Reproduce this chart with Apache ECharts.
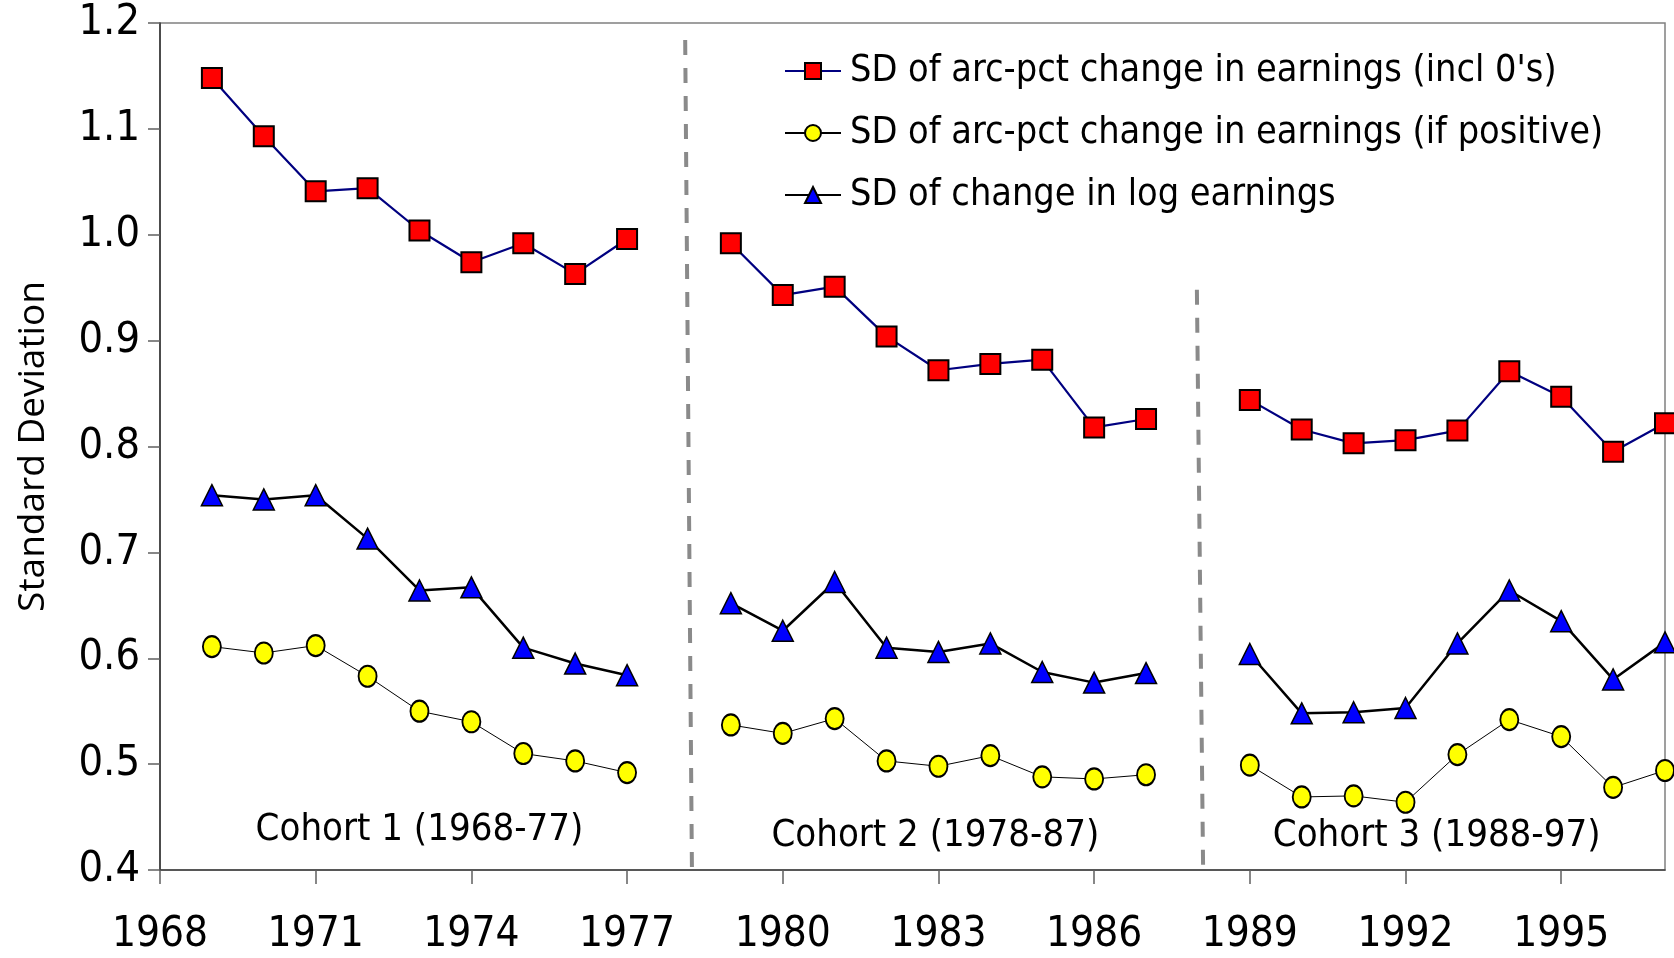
<!DOCTYPE html>
<html>
<head>
<meta charset="utf-8">
<script src="https://cdn.jsdelivr.net/npm/echarts@6/dist/echarts.min.js"></script>
<style>
html,body{margin:0;padding:0;background:#fff;}
#chart{width:1674px;height:958px;}
</style>
</head>
<body>
<div id="chart"></div>
<script>
// ---- data ----
const years = [1969,1970,1971,1972,1973,1974,1975,1976,1977, null, 1979,1980,1981,1982,1983,1984,1985,1986,1987, null, 1989,1990,1991,1992,1993,1994,1995,1996,1997];
const sdArcInclZeros = [1.148,1.093,1.041,1.044,1.004,0.974,0.992,0.963,0.996, null, 0.992,0.943,0.951,0.904,0.872,0.878,0.882,0.818,0.826, null, 0.844,0.816,0.803,0.806,0.815,0.871,0.847,0.795,0.822];
const sdArcPositive = [0.611,0.605,0.612,0.583,0.550,0.540,0.510,0.503,0.492, null, 0.537,0.529,0.543,0.503,0.498,0.508,0.488,0.486,0.490, null, 0.499,0.469,0.470,0.464,0.509,0.542,0.526,0.478,0.494];
const sdLogChange = [0.754,0.750,0.754,0.713,0.664,0.667,0.610,0.595,0.584, null, 0.652,0.626,0.672,0.610,0.606,0.614,0.587,0.577,0.586, null, 0.604,0.548,0.549,0.553,0.614,0.664,0.635,0.580,0.615];
const seriesNames = ["SD of arc-pct change in earnings (incl 0's)", "SD of arc-pct change in earnings (if positive)", "SD of change in log earnings"];
const xTicks = [1968,1971,1974,1977,1980,1983,1986,1989,1992,1995];
const yTicks = [0.4,0.5,0.6,0.7,0.8,0.9,1.0,1.1,1.2];
const cohortNames = ["Cohort 1 (1968-77)", "Cohort 2 (1978-87)", "Cohort 3 (1988-97)"];
const cohortLabelX = [1973.0, 1982.94, 1992.6];
const cohortLabelY = [0.438, 0.432, 0.432];
const dividerTop = [[1978.12, 1.184], [1987.98, 0.948]];
const dividerBottom = [[1978.25, 0.4], [1988.1, 0.4]];

function pairs(vals){
  // break the line between cohorts with a '-' gap
  return years.map((y,i)=> y === null ? [ (years[i-1]+years[i+1])/2, '-' ] : [y, vals[i]]);
}

const FONT = "'Liberation Sans Narrow','DejaVu Sans Condensed','Roboto Condensed','Liberation Sans',sans-serif";

const chart = echarts.init(document.getElementById('chart'), null, {renderer:'canvas'});
chart.setOption({
  animation:false,
  backgroundColor:'#ffffff',
  grid:{left:160, right:9, top:23, bottom:88, show:true, borderColor:'#808080', borderWidth:1.5, containLabel:false},
  legend:{
    data: seriesNames,
    orient:'vertical',
    left:779, top:45,
    itemWidth:56, itemHeight:20, itemGap:20,
    textStyle:{fontFamily:FONT, fontSize:37.5, color:'#000', lineHeight:42, padding:[0,0,0,4]},
    selectedMode:false
  },
  xAxis:{
    type:'value', min:1968, max:1997,
    axisLine:{show:true, onZero:false, lineStyle:{color:'#404040', width:1.5}},
    axisTick:{show:true, length:14, customValues:xTicks, lineStyle:{color:'#606060', width:1.5}},
    axisLabel:{customValues:xTicks, margin:44, fontFamily:FONT, fontSize:42, color:'#000', formatter:v=>String(v)},
    splitLine:{show:false}
  },
  yAxis:{
    type:'value', min:0.4, max:1.2, interval:0.1,
    name:'Standard Deviation', nameLocation:'middle', nameGap:108,
    nameTextStyle:{fontFamily:"'Open Sans','Noto Sans',sans-serif", fontSize:37, color:'#000'},
    axisLine:{show:true, lineStyle:{color:'#303030', width:1.5}},
    axisTick:{show:true, length:12, lineStyle:{color:'#606060', width:1.5}},
    axisLabel:{margin:20, fontFamily:FONT, fontSize:43, color:'#000', formatter:v=>v.toFixed(1)},
    splitLine:{show:false}
  },
  series:[
    {
      name:seriesNames[0], type:'line', data:pairs(sdArcInclZeros), connectNulls:false,
      symbol:'rect', symbolSize:[20,20],
      lineStyle:{color:'#000080', width:2.2},
      itemStyle:{color:'#ff0000', borderColor:'#000', borderWidth:2},
      z:5,
      markLine:{
        silent:true, symbol:'none', label:{show:false},
        lineStyle:{color:'#8a8a8a', width:4, type:[15,13]},
        data: dividerTop.map((p,i)=>[{coord:p},{coord:dividerBottom[i]}])
      }
    },
    {
      name:seriesNames[1], type:'line', data:pairs(sdArcPositive), connectNulls:false,
      symbol:'circle', symbolSize:[18,21],
      lineStyle:{color:'#000', width:1},
      itemStyle:{color:'#ffff00', borderColor:'#000', borderWidth:2},
      z:4
    },
    {
      name:seriesNames[2], type:'line', data:pairs(sdLogChange), connectNulls:false,
      symbol:'triangle', symbolSize:[21,21],
      lineStyle:{color:'#000', width:2.5},
      itemStyle:{color:'#0000ff', borderColor:'#000', borderWidth:1.5},
      z:4
    },
    {
      name:'cohorts', type:'scatter', symbolSize:1, silent:true,
      itemStyle:{opacity:1, color:'rgba(0,0,0,0)'},
      data: cohortNames.map((n,i)=>({name:n, value:[cohortLabelX[i], cohortLabelY[i]]})),
      label:{show:true, position:'inside', formatter:p=>p.name, fontFamily:FONT, fontSize:38, color:'#000', textBorderWidth:0},
      z:3
    }
  ]
});
</script>
</body>
</html>
